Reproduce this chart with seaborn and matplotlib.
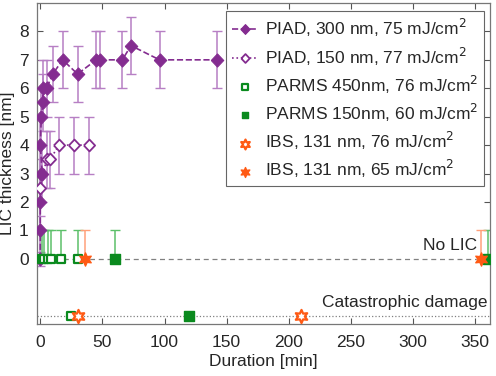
#!/usr/bin/env python
# LIC thickness vs irradiation duration for the coating types

import numpy as np
import pandas as pd
import matplotlib
matplotlib.use("Agg")
import matplotlib.pyplot as plt
import seaborn as sns

sns.set_style("ticks")
matplotlib.rcParams['font.family'] = ["Liberation Sans", "DejaVu Sans"]

# %% data

piad300_t = [0, 0, 0, 0.5, 1.5, 0, 0.8, 2, 2, 5, 10, 18, 30, 45, 48, 66, 73, 96, 142]
piad300_y = [0, 1, 2, 3, 3, 4, 5, 5.5, 6, 6, 6.5, 7, 6.5, 7, 7, 7, 7.5, 7, 7]
piad300_err = [0.25] + [1] * 18

piad150_t = [0, 5, 8, 15, 27, 39]
piad150_y = [2.5, 3.5, 3.5, 4, 4, 4]
piad150_err = [1, 1, 1, 1, 1, 1]

parms450_t = [1, 3, 6, 9, 17, 30, 25]
parms450_y = [0, 0, 0, 0, 0, 0, -2]

parms150_t = [60, 360, 120]
parms150_y = [0, 0, -2]

ibs76_t = [30, 210]
ibs76_y = [-2, -2]

ibs65_t = [36, 355]
ibs65_y = [0, 0]

purple = "#842c90"
purple_light = "#b77fc4"
green = "#0a8a1e"
green_light = "#5cc06a"
orange = "#ff5a14"
orange_light = "#ffa07a"
star6 = (6, 1, 0)
diamond = [(-0.95, 0), (0, 1), (0.95, 0), (0, -1), (-0.95, 0)]
fs = 12.5

# %% plot

fig, ax = plt.subplots(figsize=(4.96, 3.76), dpi=100)
fig.subplots_adjust(left=0.075, right=0.988, top=0.992, bottom=0.138)

ax.axhline(0, color="grey", ls=(0, (4, 3)), lw=0.9, zorder=1)
ax.axhline(-2, color="grey", ls=":", lw=0.9, zorder=1)

# error bars (only the measured, non-damaged points)
ax.errorbar(piad300_t, piad300_y, yerr=piad300_err, fmt="none",
            ecolor=purple_light, elinewidth=1.1, capsize=3.5, zorder=2)
ax.errorbar(piad150_t, piad150_y, yerr=piad150_err, fmt="none",
            ecolor=purple_light, elinewidth=1.1, capsize=3.5, zorder=2)
g_t = parms450_t[:6] + parms150_t[:2]
ax.errorbar(g_t, [0] * len(g_t), yerr=[[0] * len(g_t), [1] * len(g_t)], fmt="none",
            ecolor=green_light, elinewidth=1.1, capsize=3.5, zorder=2)
ax.errorbar(ibs65_t, ibs65_y, yerr=[[0, 0], [1, 1]], fmt="none",
            ecolor=orange_light, elinewidth=1.1, capsize=3.5, zorder=2)

sns.lineplot(x=piad300_t, y=piad300_y, ax=ax, estimator=None, sort=False,
             color=purple, linestyle="--", lw=1.2, marker=diamond, markersize=9.5,
             markeredgecolor=purple, label=r"PIAD, 300 nm, 75 mJ/cm$^2$", zorder=4)
sns.lineplot(x=piad150_t, y=piad150_y, ax=ax, estimator=None, sort=False,
             color=purple, linestyle=":", lw=1.2, marker=diamond, markersize=8.5,
             markerfacecolor="white", markeredgecolor=purple, markeredgewidth=1.3,
             label=r"PIAD, 150 nm, 77 mJ/cm$^2$", zorder=4)
sns.scatterplot(x=parms450_t, y=parms450_y, ax=ax, marker="s", s=40,
                facecolor="white", edgecolor=green, linewidth=1.6,
                label=r"PARMS 450nm, 76 mJ/cm$^2$", zorder=5)
sns.scatterplot(x=parms150_t, y=parms150_y, ax=ax, marker="s", s=42,
                color=green, edgecolor=green, linewidth=1,
                label=r"PARMS 150nm, 60 mJ/cm$^2$", zorder=5)
sns.scatterplot(x=ibs76_t, y=ibs76_y, ax=ax, marker=star6, s=90,
                facecolor="white", edgecolor=orange, linewidth=1.6,
                label=r"IBS, 131 nm, 76 mJ/cm$^2$", zorder=5)
sns.scatterplot(x=ibs65_t, y=ibs65_y, ax=ax, marker=star6, s=90,
                color=orange, edgecolor=orange, linewidth=1,
                label=r"IBS, 131 nm, 65 mJ/cm$^2$", zorder=5)

ax.text(352, 0.45, "No LIC", ha="right", va="center", fontsize=fs)
ax.text(360, -1.55, "Catastrophic damage", ha="right", va="center", fontsize=fs)

ax.set_xlim(-2.5, 362)
ax.set_ylim(-2.3, 9)
ax.set_xticks(np.arange(0, 351, 50))
ax.set_yticks(np.arange(0, 9, 1))
ax.tick_params(direction="in", top=True, right=True, labelsize=fs,
               color="#555555", length=4)
ax.tick_params(axis="x", pad=8)
ax.tick_params(axis="y", pad=6)
for s in ax.spines.values():
    s.set_color("#777777")
    s.set_linewidth(0.9)
ax.set_xlabel("Duration [min]", fontsize=fs, labelpad=3)
ax.set_ylabel("LIC thickness [nm]", fontsize=fs, labelpad=3)

leg = ax.legend(loc="upper right", bbox_to_anchor=(0.995, 0.985), fontsize=fs,
                frameon=True, fancybox=False, framealpha=1, edgecolor="#666666",
                handlelength=1.5, handletextpad=0.4, borderpad=0.35,
                labelspacing=0.35, borderaxespad=0.2, markerscale=0.75)
leg.get_frame().set_linewidth(0.8)

plt.savefig("out.png", dpi=100)
